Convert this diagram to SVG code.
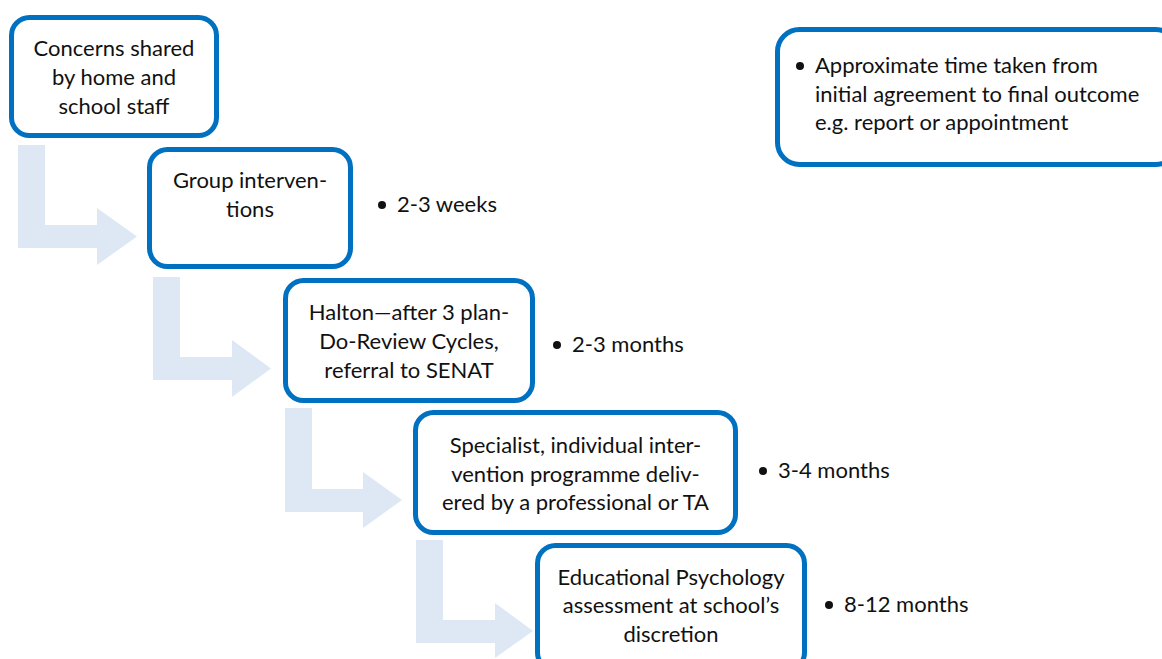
<svg xmlns="http://www.w3.org/2000/svg" width="1162" height="659" viewBox="0 0 1162 659">
<style>
.box{fill:#ffffff;stroke:#0070C0;stroke-width:5}
.arr{fill:#DEE8F5;stroke:none}
.t{font-family:Lato,"Liberation Sans",sans-serif;font-size:22px;fill:#111111}
.c{text-anchor:middle}
.dot{fill:#111111}
</style>
<rect width="1162" height="659" fill="#ffffff"/>
<g id="connectors">
<polygon class="arr" points="18,145 45,145 45,225 97,225 97,208 137,236.5 97,265 97,248 18,248"/>
<polygon class="arr" points="153,277 180,277 180,357 232,357 232,340 271,368.5 232,397 232,380 153,380"/>
<polygon class="arr" points="285,408 312,408 312,489 363,489 363,472 402,500 363,528 363,512 285,512"/>
<polygon class="arr" points="416,540 443,540 443,620 495,620 495,603 533,631 495,658 495,643 416,643"/>
</g>
<g id="n1">
<rect class="box" x="11.5" y="17.5" width="205" height="118" rx="18"/>
<text class="t c" x="114" y="56">Concerns shared</text>
<text class="t c" x="114" y="85">by home and</text>
<text class="t c" x="114" y="114">school staff</text>
</g>
<g id="n2">
<rect class="box" x="149.5" y="149.5" width="201" height="117" rx="18"/>
<text class="t c" x="250" y="188">Group interven-</text>
<text class="t c" x="250" y="217">tions</text>
</g>
<g id="n3">
<rect class="box" x="285.5" y="280.5" width="247" height="120" rx="18"/>
<text class="t c" x="409" y="320">Halton—after 3 plan-</text>
<text class="t c" x="409" y="349">Do-Review Cycles,</text>
<text class="t c" x="409" y="378">referral to SENAT</text>
</g>
<g id="n4">
<rect class="box" x="415.5" y="412.5" width="320" height="120" rx="18"/>
<text class="t c" x="575.5" y="453">Specialist, individual inter-</text>
<text class="t c" x="575.5" y="482">vention programme deliv-</text>
<text class="t c" x="575.5" y="510">ered by a professional or TA</text>
</g>
<g id="n5">
<rect class="box" x="537.5" y="545.5" width="267" height="125" rx="18"/>
<text class="t c" x="671" y="585">Educational Psychology</text>
<text class="t c" x="671" y="613">assessment at school’s</text>
<text class="t c" x="671" y="642">discretion</text>
</g>
<g id="legend">
<rect class="box" x="777.5" y="29.5" width="400" height="135" rx="22"/>
<circle class="dot" cx="800" cy="66" r="4"/>
<text class="t" x="815" y="73">Approximate time taken from</text>
<text class="t" x="815" y="102">initial agreement to final outcome</text>
<text class="t" x="815" y="130">e.g. report or appointment</text>
</g>
<g id="t1">
<circle class="dot" cx="382" cy="205" r="4"/>
<text class="t" x="397" y="212">2-3 weeks</text>
</g>
<g id="t2">
<circle class="dot" cx="557" cy="345" r="4"/>
<text class="t" x="572" y="352">2-3 months</text>
</g>
<g id="t3">
<circle class="dot" cx="763" cy="471" r="4"/>
<text class="t" x="778" y="478">3-4 months</text>
</g>
<g id="t4">
<circle class="dot" cx="829" cy="605" r="4"/>
<text class="t" x="844" y="612">8-12 months</text>
</g>
</svg>
